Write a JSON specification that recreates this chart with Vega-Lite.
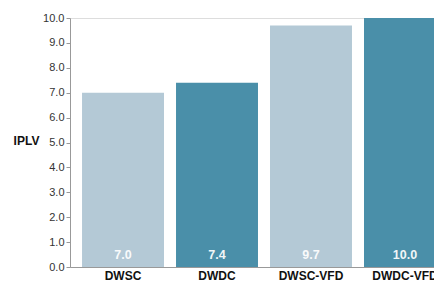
{
  "$schema": "https://vega.github.io/schema/vega-lite/v6.json",
  "autosize": "none",
  "width": 388,
  "height": 249,
  "padding": {"left": 70, "top": 18, "right": 0, "bottom": 15},
  "background": "white",
  "data": {"values": [
    {"system": "DWSC", "iplv": 7.0, "group": "SC"},
    {"system": "DWDC", "iplv": 7.4, "group": "DC"},
    {"system": "DWSC-VFD", "iplv": 9.7, "group": "SC"},
    {"system": "DWDC-VFD", "iplv": 10.0, "group": "DC"}
  ]},
  "encoding": {
    "x": {"field": "system", "type": "nominal", "sort": null,
      "scale": {"paddingInner": 0.128, "paddingOuter": 0.128},
      "axis": {"title": null, "labelAngle": 0, "labelFont": "Liberation Sans", "labelFontWeight": "bold", "labelFontSize": 12, "labelColor": "#111", "ticks": false, "labelPadding": 3, "domainColor": "#999"}}
  },
  "layer": [
    {
      "mark": {"type": "bar"},
      "encoding": {
        "y": {"field": "iplv", "type": "quantitative",
          "scale": {"domain": [0, 10], "nice": false},
          "axis": {"title": "IPLV", "titleAngle": 0, "titleFont": "Liberation Sans", "titleFontWeight": "bold", "titleFontSize": 12, "titleColor": "#111", "titleX": -44, "titleY": 122, "titleAlign": "center", "titleBaseline": "middle",
            "values": [0,1,2,3,4,5,6,7,8,9,10], "format": ".1f", "grid": false, "labelOverlap": false, "labelFont": "Liberation Sans", "labelFontSize": 11, "labelColor": "#333", "tickSize": 4, "tickColor": "#999", "domainColor": "#999", "labelPadding": 2}},
        "color": {"field": "group", "type": "nominal", "legend": null,
          "scale": {"domain": ["SC", "DC"], "range": ["#b4c9d6", "#4a8fa9"]}}
      }
    },
    {
      "mark": {"type": "text", "font": "Liberation Sans", "fontWeight": "bold", "fontSize": 12.5, "color": "white", "opacity": 0.92, "dy": -12},
      "encoding": {
        "y": {"datum": 0, "type": "quantitative",
          "scale": {"domain": [0, 10], "nice": false},
          "axis": {"title": "IPLV", "titleAngle": 0, "titleFont": "Liberation Sans", "titleFontWeight": "bold", "titleFontSize": 12, "titleColor": "#111", "titleX": -44, "titleY": 122, "titleAlign": "center", "titleBaseline": "middle",
            "values": [0,1,2,3,4,5,6,7,8,9,10], "format": ".1f", "grid": false, "labelOverlap": false, "labelFont": "Liberation Sans", "labelFontSize": 11, "labelColor": "#333", "tickSize": 4, "tickColor": "#999", "domainColor": "#999", "labelPadding": 2}},
        "text": {"field": "iplv", "type": "quantitative", "format": ".1f"}
      }
    }
  ]
}
